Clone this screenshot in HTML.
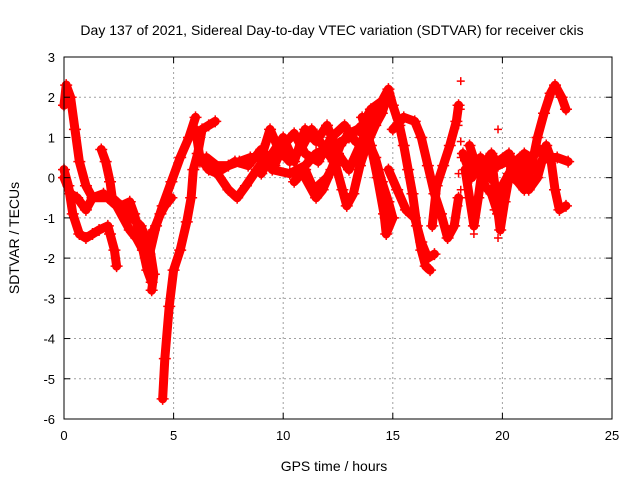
<!DOCTYPE html>
<html><head><meta charset="utf-8"><style>
body{margin:0;background:#fff;}
svg{display:block;font-family:"Liberation Sans",sans-serif;}
</style></head><body>
<svg id="chart" width="640" height="480">
<g id="grid"></g>
<g id="marks"></g>
<g id="axes"></g>
<text x="332" y="35" text-anchor="middle" font-size="14">Day 137 of 2021, Sidereal Day-to-day VTEC variation (SDTVAR) for receiver ckis</text>
<text x="334" y="471" text-anchor="middle" font-size="14">GPS time / hours</text>
<text transform="translate(19,238) rotate(-90)" text-anchor="middle" font-size="14">SDTVAR / TECUs</text>
</svg>
<script>
const xTicks=[0,5,10,15,20,25];
const yTicks=[3,2,1,0,-1,-2,-3,-4,-5,-6];
const track1=[[0,1.8],[0.1,2.3],[0.3,2.0],[0.5,1.2],[0.7,0.4],[1.0,-0.2],[1.3,-0.5],[2.0,-0.5],[2.3,-0.65],[2.9,-0.9],[3.5,-1.2],[3.9,-1.7],[4.1,-2.4],[4.0,-2.8]];
const track2=[[0,0.2],[0.2,-0.2],[0.4,-0.9],[0.7,-1.4],[1.0,-1.5],[1.3,-1.4],[1.6,-1.3],[2.0,-1.2],[2.1,-1.4],[2.3,-1.8],[2.4,-2.2]];
const track3=[[1.7,0.7],[1.9,0.4],[2.1,-0.1],[2.2,-0.5],[2.6,-0.7],[3.0,-0.6],[3.2,-0.9],[3.5,-1.5],[3.8,-1.6],[4.1,-1.3],[4.4,-0.9],[4.6,-0.7],[4.9,-0.5]];
const track4=[[0,0],[0.3,-0.4],[0.6,-0.5],[1.0,-0.8],[1.3,-0.5],[1.8,-0.4],[2.4,-0.7],[3.0,-1.3],[3.3,-1.5],[3.6,-1.8],[3.8,-2.3],[4.0,-2.6]];
const track5=[[3.6,-1.6],[3.9,-1.9],[4.2,-1.2],[4.5,-0.7],[4.9,-0.1],[5.3,0.5],[5.7,1.0],[6.0,1.5]];
const track6=[[4.5,-5.5],[4.6,-4.5],[4.8,-3.2],[5.0,-2.3],[5.3,-1.8],[5.6,-1.1],[5.8,-0.5],[5.9,0.2],[6.1,0.6],[6.3,1.2],[6.6,1.3],[6.9,1.4]];
const track7=[[6.0,1.2],[6.2,0.5],[6.6,0.2],[7.0,0.1],[7.5,-0.3],[7.9,-0.5],[8.3,-0.2],[8.8,0.2],[9.2,0.5],[9.7,0.6],[10.2,0.5]];
const track8=[[6.2,0.4],[6.8,0.3],[7.5,0.3],[8.0,0.4],[8.5,0.5],[9.0,0.5],[9.4,1.2],[9.8,0.7],[10.3,0.4],[10.8,0.7],[11.3,1.2],[11.8,0.8],[12.3,0.4]];
const track9=[[9.5,0.2],[10.3,0.1],[11.0,0.3],[11.5,0.6],[12.3,0.8],[13.0,1.0],[13.6,1.3],[14.0,1.7],[14.5,1.9],[14.8,2.2],[15.0,1.8],[15.3,1.3],[15.5,0.8],[15.7,0.2],[15.9,-0.4],[16.1,-1.2],[16.3,-1.8],[16.5,-2.2],[16.7,-2.3]];
const track10=[[11.0,0.0],[11.5,-0.5],[11.8,-0.3],[12.2,0.2],[12.6,0.8],[13.0,1.1],[13.4,1.2],[13.8,1.0],[14.2,0.5],[14.5,-0.1],[14.8,-0.6],[15.0,-1.0]];
const track11=[[12.0,0.8],[12.4,0.3],[12.7,-0.3],[12.9,-0.7],[13.2,-0.4],[13.5,0.3],[13.8,0.8],[14.2,1.3],[14.5,1.6],[14.8,2.1]];
const track12=[[13.6,1.5],[14.0,0.8],[14.3,0.0],[14.6,-0.9],[14.7,-1.4],[15.0,-1.0]];
const track13=[[15.0,1.2],[15.5,1.5],[16.0,1.4],[16.3,1.0],[16.6,0.3],[16.9,-0.4],[17.2,-0.9],[17.5,-1.5],[17.8,-1.2],[18.0,-0.5]];
const track14=[[14.8,0.2],[15.2,-0.3],[15.6,-0.8],[16.0,-1.0],[16.3,-1.6],[16.6,-2.0],[16.9,-1.9]];
const track15=[[16.8,-1.2],[17.0,-0.2],[17.3,0.3],[17.6,0.8],[17.9,1.4],[18.0,1.8]];
const track16=[[18.3,0.2],[18.5,-0.5],[18.7,-1.2],[18.9,-0.5],[19.1,0.3],[19.5,0.6],[19.8,0.3],[20.2,0.4],[20.6,0.3],[21.0,0.6],[21.3,0.5],[21.7,0.7],[22.0,0.5],[22.5,0.5],[23.0,0.4]];
const track17=[[18.5,0.8],[18.8,0.3],[19.2,-0.2],[19.5,-0.4],[19.8,-0.9],[20.0,-0.2],[20.3,0.1],[20.7,-0.1],[21.0,-0.3],[21.3,0.2],[21.6,1.0],[21.9,1.6],[22.2,2.1],[22.4,2.3],[22.7,2.0],[22.9,1.7]];
const track18=[[21.2,-0.3],[21.6,0.0],[22.0,0.8],[22.2,0.5],[22.4,-0.3],[22.6,-0.8],[22.9,-0.7]];
const track19=[[19.5,0.5],[19.7,-0.4],[19.9,-1.3],[20.1,-0.6],[20.4,0.3],[20.8,0.5]];
const track20=[[6.5,0.5],[7.2,0.2],[7.8,0.4],[8.4,0.3],[9.0,0.7],[9.6,0.3],[10.0,0.8],[10.5,1.1],[11.0,0.6],[11.6,0.4],[12.2,1.0],[12.8,1.3],[13.3,0.9]];
const track21=[[9.0,0.1],[9.5,0.6],[10.0,1.0],[10.5,0.4],[11.0,1.2],[11.5,0.9],[12.0,1.3],[12.5,0.6],[13.0,0.2],[13.5,0.8],[14.0,1.4],[14.5,1.8]];
const track22=[[10.5,-0.1],[11.0,0.2],[11.4,-0.3],[12.0,0.0],[12.5,0.5]];
const track23=[[18.2,0.6],[18.6,0.0],[19.0,0.5],[19.4,0.0],[19.8,0.4],[20.3,0.6],[20.8,0.0],[21.2,0.5],[21.5,0.2],[21.8,0.4]];
const loosePoints=[[18.1,2.4],[18.1,1.7],[18.0,1.3],[18.1,0.9],[18.1,0.5],[18.0,0.1],[18.1,-0.3],[18.0,-0.7],[19.8,1.2],[19.6,-0.8],[18.7,-1.4],[19.8,-1.5]];
const tracks=[track1,track2,track3,track4,track5,track6,track7,track8,track9,track10,track11,track12,track13,track14,track15,track16,track17,track18,track19,track20,track21,track22,track23];

const X0=64,X1=612,Y0=57,Y1=419;
const xs=t=>X0+(t-0)/(25-0)*(X1-X0);
const ys=v=>Y0+(3-v)/(3-(-6))*(Y1-Y0);
const NS="http://www.w3.org/2000/svg";
const grid=document.getElementById('grid'),axes=document.getElementById('axes'),marks=document.getElementById('marks');
function mk(tag,attrs,parent){const e=document.createElementNS(NS,tag);for(const k in attrs)e.setAttribute(k,attrs[k]);parent.appendChild(e);return e;}
xTicks.forEach(t=>{
  const x=xs(t);
  if(t>0&&t<25){const g=mk('line',{x1:x,x2:x,y1:Y0,y2:Y1,stroke:'#a0a0a0','stroke-dasharray':'2,3'},grid);
  
  }
  mk('line',{x1:x,x2:x,y1:Y1,y2:Y1-6,stroke:'#000'},axes);
  mk('line',{x1:x,x2:x,y1:Y0,y2:Y0+6,stroke:'#000'},axes);
  const l=mk('text',{x:x,y:Y1+21,'text-anchor':'middle','font-size':'13'},axes);
  l.textContent=t;
  
  
});
yTicks.forEach(v=>{
  const y=ys(v);
  if(v<3&&v>-6){const g=mk('line',{x1:X0,x2:X1,y1:y,y2:y,stroke:'#a0a0a0','stroke-dasharray':'2,3'},grid);
  
  }
  mk('line',{x1:X0,x2:X0+6,y1:y,y2:y,stroke:'#000'},axes);
  mk('line',{x1:X1,x2:X1-6,y1:y,y2:y,stroke:'#000'},axes);
  const l=mk('text',{x:X0-9,y:y+5,'text-anchor':'end','font-size':'13'},axes);
  l.textContent=v;
  
  
});
const frame=mk('rect',{x:X0,y:Y0,width:X1-X0,height:Y1-Y0,fill:'none',stroke:'#000'},axes);


tracks.forEach(tr=>{
  const p=mk('polyline',{points:tr.map(d=>xs(d[0])+','+ys(d[1])).join(' '),fill:'none',stroke:'#ff0000','stroke-width':'9','stroke-linejoin':'round','stroke-linecap':'round'},marks);
  
  
  tr.forEach(d=>{
    const m=mk('path',{d:`M${xs(d[0])-6},${ys(d[1])}h12M${xs(d[0])},${ys(d[1])-6}v12`,stroke:'#ff0000','stroke-width':'1.5'},marks);
    
    
  });
});
loosePoints.forEach(d=>{
  const m=mk('path',{d:`M${xs(d[0])-4},${ys(d[1])}h8M${xs(d[0])},${ys(d[1])-4}v8`,stroke:'#ff0000','stroke-width':'1.5'},marks);
  
  
});
</script>
</body></html>
